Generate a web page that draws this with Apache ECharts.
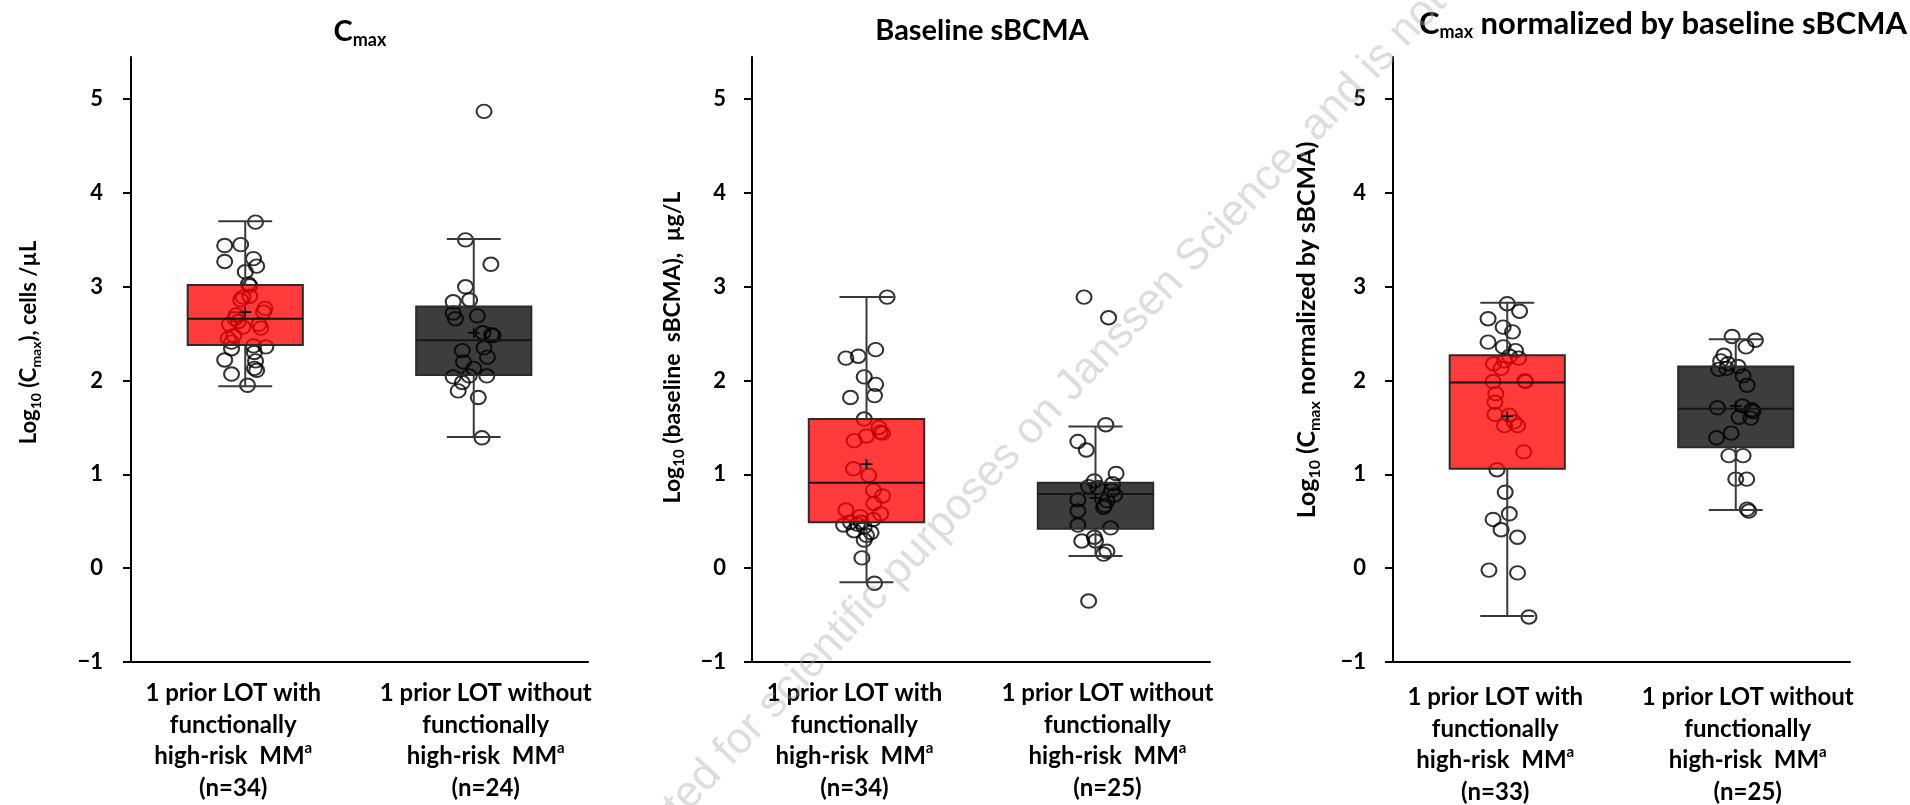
<!DOCTYPE html>
<html>
<head>
<meta charset="utf-8">
<script src="https://cdn.jsdelivr.net/npm/echarts@6/dist/echarts.min.js"></script>
<style>
html, body { margin: 0; padding: 0; background: #fff; }
#chart { width: 1910px; height: 805px; }
</style>
</head>
<body>
<div id="chart"></div>
<script>
// tick labels on every y axis
const yTicks = [-1, 0, 1, 2, 3, 4, 5]
// x categories (last line gets the superscript a)
const categories = ['1 prior LOT with\nfunctionally\nhigh-risk  MM', '1 prior LOT without\nfunctionally\nhigh-risk  MM']
const nCounts = [[34, 24], [34, 25], [33, 25]]

// box stats: [min, q1, median, q3, max, mean]
const cmaxBox = [[1.94, 2.38, 2.66, 3.02, 3.70, 2.73], [1.40, 2.06, 2.43, 2.79, 3.51, 2.51]]
const sbcmaBox = [[-0.15, 0.49, 0.91, 1.59, 2.89, 1.11], [0.13, 0.42, 0.79, 0.91, 1.51, 0.75]]
const normBox = [[-0.51, 1.06, 1.98, 2.27, 2.83, 1.62], [0.62, 1.29, 1.70, 2.15, 2.44, 1.73]]

// individual patients: [jitter (part of a category band), log10 value]
const cmaxWith = [[0.045,3.69],[-0.09,3.44],[-0.02,3.45],[-0.09,3.27],[0.036,3.30],[0,3.16],[0.05,3.22],[0.014,3.03],[0.02,3.01],[-0.01,2.89],[-0.02,2.86],[0.086,2.77],[0.08,2.73],[-0.045,2.66],[-0.03,2.63],[-0.07,2.60],[-0.01,2.57],[0.068,2.56],[-0.05,2.48],[-0.06,2.41],[0.036,2.37],[0.09,2.36],[-0.06,2.34],[0.04,2.30],[-0.09,2.22],[0.045,2.21],[0.04,2.13],[-0.06,2.07],[0.05,2.11],[0.01,1.95],[-0.04,2.70],[0.02,2.90],[-0.075,2.45],[0.06,2.60]]
const cmaxWithout = [[0.045,4.87],[-0.036,3.50],[0.075,3.24],[-0.036,3.00],[-0.09,2.84],[-0.018,2.86],[-0.09,2.72],[-0.08,2.66],[0.016,2.69],[0.04,2.51],[0.078,2.49],[0.085,2.48],[0.045,2.35],[-0.05,2.32],[0.06,2.25],[-0.045,2.20],[0,2.13],[-0.09,2.04],[-0.02,2.05],[0.057,2.05],[-0.068,1.89],[0.02,1.82],[0.036,1.39],[-0.05,1.98]]
const sbcmaWith = [[0.09,2.89],[-0.09,2.24],[-0.036,2.26],[0.04,2.33],[-0.01,2.04],[0.04,1.96],[-0.07,1.82],[0.035,1.84],[-0.01,1.59],[0.054,1.50],[0.07,1.44],[-0.054,1.36],[0,1.41],[-0.057,1.06],[0.01,0.99],[0.03,0.83],[0.07,0.77],[0.032,0.69],[0.062,0.58],[-0.09,0.62],[-0.027,0.55],[-0.07,0.49],[-0.024,0.49],[-0.1,0.46],[-0.01,0.44],[-0.054,0.40],[0,0.35],[-0.01,0.30],[-0.02,0.11],[0.035,-0.16],[0.03,0.52],[-0.04,0.47],[0.02,0.38],[0.06,1.45]]
const sbcmaWithout = [[-0.05,2.89],[0.057,2.67],[0.045,1.53],[-0.077,1.35],[-0.04,1.26],[0.09,1.01],[-0.005,0.93],[0.075,0.90],[-0.03,0.87],[0.07,0.83],[0.084,0.78],[-0.077,0.73],[0.04,0.67],[0.035,0.65],[-0.077,0.61],[-0.077,0.46],[0.066,0.43],[-0.005,0.33],[-0.06,0.29],[0,0.29],[0.05,0.18],[0.035,0.15],[-0.03,-0.35],[0.01,0.86],[0.05,0.72]]
const normWith = [[0,2.82],[0.054,2.74],[-0.084,2.66],[-0.018,2.57],[0.023,2.52],[-0.084,2.41],[-0.018,2.36],[0.036,2.32],[0.05,2.24],[-0.012,2.21],[-0.027,2.13],[-0.062,1.99],[0.077,2.00],[0.08,1.99],[-0.054,1.77],[-0.054,1.64],[0.009,1.63],[-0.012,1.52],[0.045,1.52],[0.03,1.56],[0.072,1.24],[-0.045,1.05],[-0.009,0.81],[0.009,0.58],[-0.062,0.52],[-0.027,0.41],[0.045,0.33],[-0.08,-0.02],[0.045,-0.05],[0.095,-0.52],[-0.06,2.18],[0.01,2.26],[-0.05,1.86]]
const normWithout = [[-0.016,2.47],[0.086,2.43],[0.045,2.36],[-0.052,2.27],[-0.066,2.21],[-0.034,2.18],[-0.075,2.12],[-0.04,2.13],[0.032,2.05],[0.05,1.95],[-0.08,1.71],[0.07,1.69],[0.075,1.67],[0.014,1.61],[0.066,1.60],[-0.02,1.44],[-0.084,1.39],[-0.03,1.20],[0.032,1.20],[0,0.95],[0.048,0.95],[0.05,0.63],[0.057,0.61],[0.03,1.73],[0.01,2.15]]

const FONT = 'Lato, "Noto Sans", sans-serif'
const boxColors = ['rgba(255,0,0,0.77)', 'rgba(0,0,0,0.76)']

const panels = [
  {title: '{m|C}{s|max}', titleX: 355, titleTop: 10, titleSize: 29,
   yName: '{m|Log}{s|10}{m| (C}{s|max}{m|), cells /µL}', nameSize: 22, nameGap: 88, namePad: 34,
   grid: {left: 131, top: 57, width: 457, height: 605}, tickMargin: 28, box: cmaxBox, pts: [cmaxWith, cmaxWithout], labelMargin: 16},
  {title: '{m|Baseline sBCMA}', titleX: 977, titleTop: 9, titleSize: 29,
   yName: '{m|Log}{s|10}{m| (baseline  sBCMA),  µg/L}', nameSize: 23, nameGap: 65, namePad: 24,
   grid: {left: 752, top: 57, width: 458, height: 605}, tickMargin: 26, box: sbcmaBox, pts: [sbcmaWith, sbcmaWithout], labelMargin: 16},
  {title: '{m|C}{s|max}{m| normalized by baseline sBCMA}', titleX: 1658, titleTop: 2, titleSize: 31,
   yName: '{m|Log}{s|10}{m| (C}{s|max}{m| normalized by sBCMA)}', nameSize: 25, nameGap: 70, namePad: 59,
   grid: {left: 1393, top: 57, width: 457, height: 605}, tickMargin: 27, box: normBox, pts: [normWith, normWithout], labelMargin: 20}
]

// category label: lines of the first group lean left, of the second lean right
const catFormatter = (counts) => (value, idx) => {
  const lines = value.split('\n').concat(['(n=' + counts[idx] + ')'])
  return lines.map((l, i) => {
    const sup = i === 2 ? 'a' : ''
    if (idx === 0) {
      return sup ? '{t|' + l + '}{supR|' + sup + '}' : '{tR|' + l + '}'
    }
    return sup ? '{tL|' + l + '}{sup|' + sup + '}' : '{tL|' + l + '}'
  }).join('\n')
}

const labelText = {fontFamily: FONT, fontWeight: 'bold', fontSize: 24, color: '#000', lineHeight: 31.5}
const labelSup = {fontFamily: FONT, fontWeight: 'bold', fontSize: 15, color: '#000', lineHeight: 20, verticalAlign: 'top'}

//箱线图：盒子、须线、均值
const renderBox = (params, api) => {
  const cat = api.value(0)
  const cx = api.coord([cat, 0])[0]
  const band = api.size([1, 0])[0]
  const y = v => api.coord([cat, v])[1]
  const lo = api.value(1), q1 = api.value(2), med = api.value(3), q3 = api.value(4), hi = api.value(5), mean = api.value(6)
  const hb = band * 0.252, hc = band * 0.118
  const ln = {stroke: '#3a3a3a', lineWidth: 2}
  return {
    type: 'group',
    children: [
      {type: 'line', shape: {x1: cx, y1: y(hi), x2: cx, y2: y(q3)}, style: ln},
      {type: 'line', shape: {x1: cx, y1: y(q1), x2: cx, y2: y(lo)}, style: ln},
      {type: 'line', shape: {x1: cx - hc, y1: y(hi), x2: cx + hc, y2: y(hi)}, style: ln},
      {type: 'line', shape: {x1: cx - hc, y1: y(lo), x2: cx + hc, y2: y(lo)}, style: ln},
      {type: 'rect', shape: {x: cx - hb, y: y(q3), width: hb * 2, height: y(q1) - y(q3)},
       style: {fill: boxColors[params.dataIndex], stroke: '#2b2b2b', lineWidth: 2}},
      {type: 'line', shape: {x1: cx - hb, y1: y(med), x2: cx + hb, y2: y(med)}, style: {stroke: '#151515', lineWidth: 2}},
      {type: 'line', shape: {x1: cx - 6, y1: y(mean), x2: cx + 6, y2: y(mean)}, style: {stroke: '#000', lineWidth: 1.6}},
      {type: 'line', shape: {x1: cx, y1: y(mean) - 5, x2: cx, y2: y(mean) + 5}, style: {stroke: '#000', lineWidth: 1.6}}
    ]
  }
}

const grid = [], xAxis = [], yAxis = [], series = [], title = []
panels.forEach((p, g) => {
  grid.push(p.grid)
  title.push({
    text: p.title, left: p.titleX, top: p.titleTop, textAlign: 'center',
    textStyle: {rich: {
      m: {fontFamily: FONT, fontWeight: 'bold', fontSize: p.titleSize, color: '#000', lineHeight: 34},
      s: {fontFamily: FONT, fontWeight: 'bold', fontSize: 18, color: '#000', lineHeight: 16, verticalAlign: 'bottom'}
    }}
  })
  xAxis.push({
    type: 'category', gridIndex: g, data: categories, boundaryGap: true,
    axisLine: {onZero: false, lineStyle: {color: '#000', width: 2}},
    axisTick: {alignWithLabel: true, length: 8, lineStyle: {color: '#000', width: 2}},
    axisLabel: {
      interval: 0, margin: p.labelMargin, formatter: catFormatter(nCounts[g]),
      rich: {
        t: labelText,
        tR: Object.assign({}, labelText, {padding: [0, 24, 0, 0]}),
        tL: Object.assign({}, labelText, {padding: [0, 0, 0, 24]}),
        sup: labelSup,
        supR: Object.assign({}, labelSup, {padding: [0, 24, 0, 0]})
      }
    },
    splitLine: {show: false}
  })
  xAxis.push({type: 'value', gridIndex: g, min: -0.5, max: 1.5, show: false, axisLine: {onZero: false}})
  yAxis.push({
    type: 'value', gridIndex: g, min: -1, max: 5.45,
    name: p.yName, nameLocation: 'middle', nameRotate: 90, nameGap: p.nameGap,
    nameTextStyle: {
      padding: [0, 0, 0, p.namePad],
      rich: {
        m: {fontFamily: FONT, fontWeight: 'bold', fontSize: p.nameSize, color: '#000', lineHeight: Math.round(p.nameSize * 1.27)},
        s: {fontFamily: FONT, fontWeight: 'bold', fontSize: Math.round(p.nameSize * 0.65), color: '#000', lineHeight: 12, verticalAlign: 'bottom'}
      }
    },
    axisLine: {show: true, onZero: false, lineStyle: {color: '#000', width: 2}},
    axisTick: {show: true, length: 8, customValues: yTicks, lineStyle: {color: '#000', width: 2}},
    axisLabel: {
      customValues: yTicks, margin: p.tickMargin,
      fontFamily: FONT, fontWeight: 'bold', fontSize: 22, color: '#000',
      formatter: v => String(v).replace('-', '\u2212')
    },
    splitLine: {show: false}
  })
  p.pts.forEach((pts, i) => {
    series.push({
      type: 'scatter', xAxisIndex: g * 2 + 1, yAxisIndex: g, z: 2, silent: true,
      symbol: 'circle', symbolSize: [15, 13.5],
      itemStyle: {color: 'rgba(0,0,0,0)', borderColor: '#000', borderWidth: 2},
      data: pts.map(d => [i + d[0], d[1]])
    })
  })
  series.push({
    type: 'custom', xAxisIndex: g * 2, yAxisIndex: g, z: 3, silent: true,
    renderItem: renderBox,
    encode: {x: 0, y: [1, 2, 3, 4, 5, 6]},
    data: p.box.map((b, i) => [i, ...b])
  })
})

const myChart = echarts.init(document.getElementById('chart'))
const option = {
  backgroundColor: '#fff',
  animation: false,
  title, grid, xAxis, yAxis, series,
  graphic: [{
    type: 'text', x: 672, y: 812, rotation: 46.8 * Math.PI / 180, z: 100, silent: true,
    style: {text: 'ted for scientific purposes on Janssen Science, and is not', fontFamily: '"Liberation Sans", Arial, sans-serif',
      fontSize: 44, fill: 'rgba(170,170,170,0.4)', textVerticalAlign: 'middle'}
  }]
}
option && myChart.setOption(option)
</script>
</body>
</html>
